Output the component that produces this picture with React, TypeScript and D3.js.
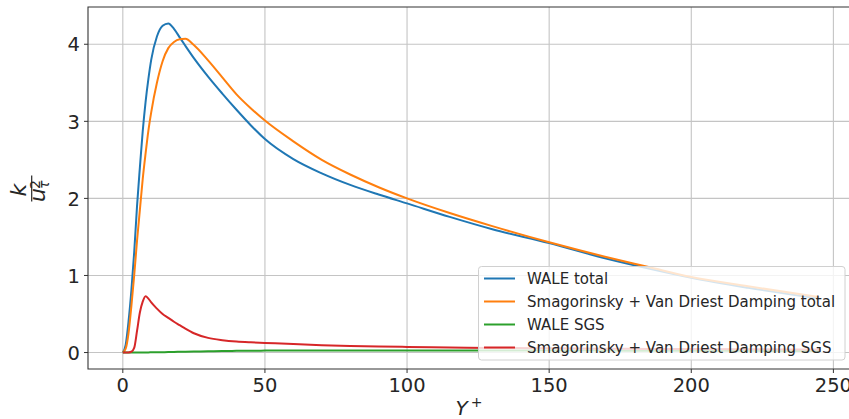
import { useRef, useEffect } from 'react';
import * as d3 from 'd3';

const yPlus = [0, 1, 2, 3, 4, 5, 6, 7, 8, 9, 10, 12, 14, 16, 18, 20, 22, 25, 30, 35, 40, 45, 50, 60, 70, 80, 90, 100, 115, 130, 150, 170, 185, 200, 220, 245];

const waleTotal = [0, 0.1, 0.4, 0.8, 1.3, 1.9, 2.4, 2.87, 3.25, 3.55, 3.8, 4.1, 4.24, 4.27, 4.2, 4.09, 3.98, 3.82, 3.58, 3.36, 3.15, 2.95, 2.77, 2.51, 2.325, 2.175, 2.05, 1.935, 1.76, 1.6, 1.42, 1.22, 1.09, 0.97, 0.84, 0.7];
const smagTotal = [0, 0.05, 0.25, 0.6, 1.0, 1.45, 1.85, 2.25, 2.58, 2.88, 3.12, 3.5, 3.78, 3.95, 4.03, 4.065, 4.07, 3.99, 3.79, 3.57, 3.35, 3.17, 3.01, 2.74, 2.5, 2.31, 2.145, 2.0, 1.81, 1.64, 1.43, 1.24, 1.11, 0.98, 0.86, 0.72];
const waleSgs = [0, 0, 0, 0, 0, 0, 0.001, 0.001, 0.002, 0.002, 0.003, 0.004, 0.005, 0.006, 0.008, 0.01, 0.011, 0.013, 0.017, 0.02, 0.022, 0.024, 0.025, 0.027, 0.028, 0.028, 0.028, 0.028, 0.027, 0.027, 0.026, 0.025, 0.024, 0.023, 0.022, 0.02];
const smagSgs = [0, 0, 0.002, 0.01, 0.06, 0.28, 0.52, 0.66, 0.73, 0.7, 0.65, 0.57, 0.5, 0.45, 0.4, 0.355, 0.31, 0.25, 0.19, 0.16, 0.142, 0.132, 0.125, 0.11, 0.096, 0.086, 0.078, 0.073, 0.066, 0.06, 0.055, 0.05, 0.047, 0.045, 0.042, 0.04];

const seriesNames = ['WALE total', 'Smagorinsky + Van Driest Damping total', 'WALE SGS', 'Smagorinsky + Van Driest Damping SGS'];
const seriesValues = [waleTotal, smagTotal, waleSgs, smagSgs];
const colors = ['#1f77b4', '#ff7f0e', '#2ca02c', '#d62728'];
const xTicks = [0, 50, 100, 150, 200, 250];
const yTicks = [0, 1, 2, 3, 4];

const Chart = () => {
  const svgRef = useRef(null);

  useEffect(() => {
    const w = 849;
    const h = 419;
    const left = 88, right = 854, top = 7, bottom = 369;
    const font = 'DejaVu Sans, sans-serif';
    const ink = '#262626';

    const svg = d3.select(svgRef.current)
      .attr('width', w)
      .attr('height', h)
      .style('background', '#fff');
    svg.selectAll('*').remove();

    // matplotlib-like 5% margins
    const xMax = d3.max(yPlus);
    const yMax = d3.max(seriesValues.flat());
    const xScale = d3.scaleLinear()
      .domain([-0.05 * xMax, 1.05 * xMax])
      .range([left, right]);
    const yScale = d3.scaleLinear()
      .domain([-0.05 * yMax, 1.05 * yMax])
      .range([bottom, top]);

    const defs = svg.append('defs');
    defs.append('clipPath').attr('id', 'plot-clip')
      .append('rect')
      .attr('x', left).attr('y', top)
      .attr('width', right - left).attr('height', bottom - top);

    // grid
    const grid = svg.append('g');
    grid.selectAll('.gx')
      .data(xTicks)
      .join('line')
      .attr('x1', d => xScale(d)).attr('x2', d => xScale(d))
      .attr('y1', top).attr('y2', bottom)
      .attr('stroke', '#c4c4c4')
      .attr('stroke-width', 1.1);
    grid.selectAll('.gy')
      .data(yTicks)
      .join('line')
      .attr('x1', left).attr('x2', right)
      .attr('y1', d => yScale(d)).attr('y2', d => yScale(d))
      .attr('stroke', '#c4c4c4')
      .attr('stroke-width', 1.1);

    // lines
    const line = d3.line()
      .x((d, i) => xScale(yPlus[i]))
      .y(d => yScale(d))
      .curve(d3.curveMonotoneX);
    svg.append('g')
      .attr('clip-path', 'url(#plot-clip)')
      .selectAll('path')
      .data(seriesValues)
      .join('path')
      .attr('d', d => line(d))
      .attr('fill', 'none')
      .attr('stroke', (d, i) => colors[i])
      .attr('stroke-width', 2);

    // spines
    svg.append('path')
      .attr('d', `M${right},${top}H${left}V${bottom}H${right}`)
      .attr('fill', 'none')
      .attr('stroke', '#333')
      .attr('stroke-width', 1.1);

    // ticks + labels
    const xAx = svg.append('g');
    xTicks.forEach(t => {
      xAx.append('line')
        .attr('x1', xScale(t)).attr('x2', xScale(t))
        .attr('y1', bottom).attr('y2', bottom + 4)
        .attr('stroke', '#333');
      xAx.append('text')
        .attr('x', xScale(t)).attr('y', bottom + 22.5)
        .attr('text-anchor', 'middle')
        .attr('font-family', font).attr('font-size', 19.5)
        .attr('fill', ink)
        .text(t);
    });
    const yAx = svg.append('g');
    yTicks.forEach(t => {
      yAx.append('line')
        .attr('x1', left - 4).attr('x2', left)
        .attr('y1', yScale(t)).attr('y2', yScale(t))
        .attr('stroke', '#333');
      yAx.append('text')
        .attr('x', left - 8).attr('y', yScale(t) + 7.2)
        .attr('text-anchor', 'end')
        .attr('font-family', font).attr('font-size', 19.5)
        .attr('fill', ink)
        .text(t);
    });

    // x label: Y^+
    const xl = svg.append('text')
      .attr('x', (left + right) / 2 - 2).attr('y', 415)
      .attr('text-anchor', 'middle')
      .attr('font-family', font).attr('font-size', 20)
      .attr('fill', ink);
    xl.append('tspan').attr('font-style', 'italic').text('Y');
    xl.append('tspan').attr('font-size', 14).attr('dx', 3).attr('dy', -8).text('+');

    // y label: k / u_tau^2
    const yl = svg.append('g')
      .attr('transform', 'translate(31.7,188.5) rotate(-90)');
    yl.append('line')
      .attr('x1', -13).attr('x2', 13)
      .attr('y1', 0).attr('y2', 0)
      .attr('stroke', ink).attr('stroke-width', 1.2);
    yl.append('text')
      .attr('x', -1.5).attr('y', -6)
      .attr('text-anchor', 'middle')
      .attr('font-family', font).attr('font-size', 22).attr('font-style', 'italic')
      .attr('fill', ink)
      .text('k');
    yl.append('text')
      .attr('x', -13.5).attr('y', 13)
      .attr('font-family', font).attr('font-size', 22).attr('font-style', 'italic')
      .attr('fill', ink)
      .text('u');
    yl.append('text')
      .attr('x', -0.5).attr('y', 8.5)
      .attr('font-family', font).attr('font-size', 14)
      .attr('fill', ink)
      .text('2');
    yl.append('text')
      .attr('x', -0.5).attr('y', 17)
      .attr('font-family', font).attr('font-size', 14).attr('font-style', 'italic')
      .attr('fill', ink)
      .text('τ');

    // legend
    const lg = svg.append('g');
    lg.append('rect')
      .attr('x', 478.5).attr('y', 266.5)
      .attr('width', 366.5).attr('height', 93.5)
      .attr('rx', 3)
      .attr('fill', '#fff').attr('fill-opacity', 0.8)
      .attr('stroke', '#d0d0d0').attr('stroke-width', 1);
    seriesNames.forEach((name, i) => {
      const cy = 278.5 + i * 23;
      lg.append('line')
        .attr('x1', 484).attr('x2', 515)
        .attr('y1', cy).attr('y2', cy)
        .attr('stroke', colors[i]).attr('stroke-width', 2);
      lg.append('text')
        .attr('x', 527).attr('y', cy + 5.5)
        .attr('font-family', font).attr('font-size', 15)
        .attr('fill', ink)
        .text(name);
    });
  }, []);

  return <svg ref={svgRef}></svg>;
};

export default function App() {
  return (
    <div style={{ position: 'absolute', left: 0, top: 0 }}>
      <Chart />
    </div>
  );
}
